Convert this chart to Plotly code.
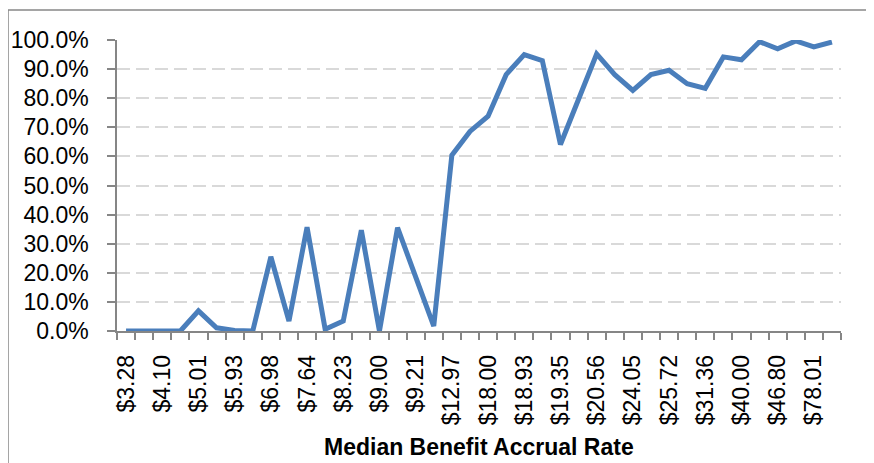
import plotly.graph_objects as go

# Data
tick_labels = ["$3.28", "$4.10", "$5.01", "$5.93", "$6.98", "$7.64", "$8.23", "$9.00",
               "$9.21", "$12.97", "$18.00", "$18.93", "$19.35", "$20.56", "$24.05",
               "$25.72", "$31.36", "$40.00", "$46.80", "$78.01"]
shares = [0.0, 0.0, 0.0, 0.0, 6.9, 1.1, 0.2, 0.0, 25.5, 3.4,
          35.7, 0.6, 3.4, 34.6, 0.0, 35.5, 18.6, 1.7, 60.4, 68.6,
          73.8, 88.1, 95.0, 92.9, 64.1, 79.5, 95.2, 88.1, 82.7, 88.1,
          89.6, 85.0, 83.4, 94.2, 93.2, 99.4, 97.0, 99.7, 97.6, 99.3]

x_idx = list(range(len(shares)))
y_vals = [v / 100 for v in shares]
label_pos = x_idx[::2]

FONT = "Liberation Sans"
# page body has an 8px margin, so the figure is placed at (8, 8)
OFF = 8
W, H = 874 - OFF, 463 - OFF
PX_L, PX_R, PX_T, PX_B = 117, 841, 40, 331   # plot area in window pixels
L, T = PX_L - OFF, PX_T - OFF
R, B = 874 - PX_R, 463 - PX_B
pw, ph = PX_R - PX_L, PX_B - PX_T

def px_x(px):
    return (px - PX_L) / pw

def px_y(py):
    return (PX_B - py) / ph

fig = go.Figure()
fig.add_trace(go.Scatter(
    x=x_idx, y=y_vals, mode="lines",
    line=dict(color="#4A7EBB", width=5),
    hoverinfo="skip", showlegend=False,
))

fig.update_layout(
    width=W, height=H,
    margin=dict(l=L, r=R, t=T, b=B, autoexpand=False),
    paper_bgcolor="white", plot_bgcolor="white",
    font=dict(family=FONT, size=23, color="black"),
    showlegend=False,
)

fig.update_xaxes(
    range=[-0.5, len(shares) - 0.5], automargin=False,
    tickmode="array", tickvals=label_pos, ticktext=tick_labels,
    tickangle=-90, ticks="", showgrid=False, zeroline=False,
    showline=True, linecolor="#868686", linewidth=1.5,
    ticklabelstandoff=13,
    minor=dict(ticks="outside", tick0=-0.5, dtick=1, ticklen=7,
               tickcolor="#868686", tickwidth=1.5, showgrid=False),
    tickfont=dict(family=FONT, size=23),
)

fig.update_yaxes(
    range=[0, 1], dtick=0.1, tickformat=".1%", automargin=False,
    ticks="outside", ticklen=8, tickcolor="#868686", tickwidth=1.5,
    showline=True, linecolor="#868686", linewidth=1.5,
    showgrid=True, gridcolor="#D9D9D9", gridwidth=1.5, griddash="13px,6px",
    zeroline=False, ticklabelstandoff=14,
    tickfont=dict(family=FONT, size=23),
)

fig.add_annotation(
    text="<b>Median Benefit Accrual Rate</b>",
    xref="paper", yref="paper", x=px_x(479), y=px_y(447),
    xanchor="center", yanchor="middle", showarrow=False,
    font=dict(family=FONT, size=23, color="black"),
)

fig.add_shape(
    type="rect", xref="paper", yref="paper",
    x0=px_x(8), x1=px_x(890), y0=px_y(480), y1=px_y(10),
    line=dict(color="#888888", width=1.5), fillcolor="rgba(0,0,0,0)",
    layer="below",
)

fig.write_html("out.html")
